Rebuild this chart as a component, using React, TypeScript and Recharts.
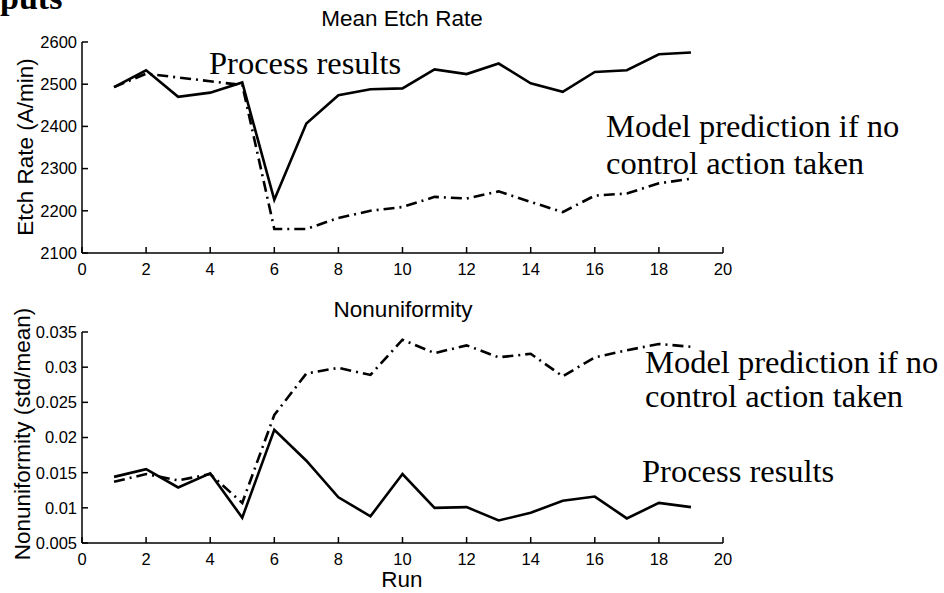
import { LineChart, Line, XAxis, YAxis } from 'recharts';

const runs = [1, 2, 3, 4, 5, 6, 7, 8, 9, 10, 11, 12, 13, 14, 15, 16, 17, 18, 19];
const etchProcess = [2493, 2533, 2470, 2480, 2504, 2226, 2407, 2474, 2488, 2490, 2535, 2524, 2549, 2502, 2482, 2529, 2533, 2571, 2575];
const etchModel = [2493, 2525, 2516, 2507, 2498, 2157, 2157, 2183, 2200, 2209, 2233, 2229, 2246, 2221, 2197, 2236, 2241, 2265, 2276];
const nonProcess = [0.0144, 0.0155, 0.0129, 0.0149, 0.0086, 0.0211, 0.0167, 0.0115, 0.0088, 0.0148, 0.01, 0.0101, 0.0082, 0.0093, 0.011, 0.0116, 0.0085, 0.0107, 0.0101];
const nonModel = [0.0137, 0.0148, 0.0139, 0.0148, 0.0107, 0.0232, 0.0291, 0.0299, 0.0289, 0.0339, 0.032, 0.0331, 0.0314, 0.0319, 0.0287, 0.0314, 0.0324, 0.0333, 0.0329];

const runTicks = [0, 2, 4, 6, 8, 10, 12, 14, 16, 18, 20];
const etchTicks = [2100, 2200, 2300, 2400, 2500, 2600];
const nonTicks = [0.005, 0.01, 0.015, 0.02, 0.025, 0.03, 0.035];

const etchData = runs.map((r, i) => ({ run: r, process: etchProcess[i], model: etchModel[i] }));
const nonData = runs.map((r, i) => ({ run: r, process: nonProcess[i], model: nonModel[i] }));

const sans = '"Liberation Sans", Arial, sans-serif';
const serif = '"Liberation Serif", "Times New Roman", serif';
const tickStyle = { fill: '#000', fontSize: 16.5, fontFamily: sans };
const axisLine = { stroke: '#000', strokeWidth: 1.5 };
const tickLine = { stroke: '#000', strokeWidth: 1.5 };

function Panel({ data, yDomain, yTicks, height, marginBottom }: any) {
  return (
    <LineChart
      width={944}
      height={height}
      data={data}
      margin={{ top: 42, right: 221, bottom: marginBottom, left: 22 }}
    >
      <XAxis
        dataKey="run"
        type="number"
        domain={[0, 20]}
        ticks={runTicks}
        height={30}
        tickSize={-6}
        tickMargin={16}
        fontSize={16.5}
        tick={tickStyle}
        axisLine={axisLine}
        tickLine={tickLine}
      />
      <XAxis
        xAxisId="top"
        orientation="top"
        dataKey="run"
        type="number"
        domain={[0, 20]}
        ticks={runTicks}
        height={0}
        tickSize={-6}
        tick={false}
        axisLine={axisLine}
        tickLine={tickLine}
      />
      <YAxis
        type="number"
        domain={yDomain}
        ticks={yTicks}
        width={60}
        tickSize={-6}
        tickMargin={11}
        fontSize={16.5}
        tick={tickStyle}
        axisLine={axisLine}
        tickLine={tickLine}
        interval={0}
      />
      <YAxis
        yAxisId="right"
        orientation="right"
        type="number"
        domain={yDomain}
        ticks={yTicks}
        width={0}
        tickSize={-6}
        tick={false}
        axisLine={axisLine}
        tickLine={tickLine}
      />
      <Line dataKey="process" stroke="#000" strokeWidth={2.6} dot={false} isAnimationActive={false} />
      <Line
        dataKey="model"
        stroke="#000"
        strokeWidth={2.6}
        strokeDasharray="11 5 2 5"
        dot={false}
        isAnimationActive={false}
      />
    </LineChart>
  );
}

export default function App() {
  return (
    <div style={{ position: 'absolute', left: 0, top: 0, width: 944, height: 593, background: '#fff' }}>
      <div style={{ position: 'absolute', left: 0, top: 0 }}>
        <Panel data={etchData} yDomain={[2100, 2600]} yTicks={etchTicks} height={290} marginBottom={7} />
      </div>
      <div style={{ position: 'absolute', left: 0, top: 290 }}>
        <Panel data={nonData} yDomain={[0.005, 0.035]} yTicks={nonTicks} height={303} marginBottom={20} />
      </div>
      <svg
        width={944}
        height={593}
        style={{ position: 'absolute', left: 0, top: 0, pointerEvents: 'none' }}
      >
        <text x={0} y={9} fontFamily={serif} fontWeight="bold" fontSize={34}>puts</text>
        <text x={402} y={26} textAnchor="middle" fontFamily={sans} fontSize={22.5}>Mean Etch Rate</text>
        <text
          transform="translate(25,147) rotate(-90)"
          textAnchor="middle"
          dominantBaseline="central"
          fontFamily={sans}
          fontSize={22.5}
        >
          Etch Rate (A/min)
        </text>
        <text x={209} y={74} fontFamily={serif} fontSize={32.5}>Process results</text>
        <text x={606} y={137} fontFamily={serif} fontSize={32.5}>Model prediction if no</text>
        <text x={606} y={174} fontFamily={serif} fontSize={32.5}>control action taken</text>

        <text x={403} y={317} textAnchor="middle" fontFamily={sans} fontSize={22.5}>Nonuniformity</text>
        <text
          transform="translate(22,434) rotate(-90)"
          textAnchor="middle"
          dominantBaseline="central"
          fontFamily={sans}
          fontSize={22.5}
        >
          Nonuniformity (std/mean)
        </text>
        <text x={645} y={373} fontFamily={serif} fontSize={32.5}>Model prediction if no</text>
        <text x={645} y={407} fontFamily={serif} fontSize={32.5}>control action taken</text>
        <text x={642} y={482} fontFamily={serif} fontSize={32.5}>Process results</text>
        <text x={402} y={587} textAnchor="middle" fontFamily={sans} fontSize={22.5}>Run</text>
      </svg>
    </div>
  );
}
